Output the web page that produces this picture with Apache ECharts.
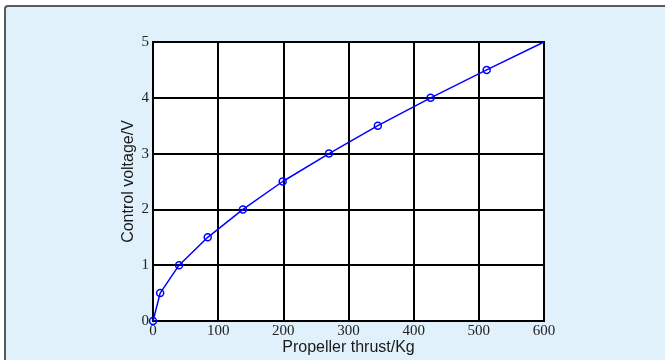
<!DOCTYPE html>
<html>
<head>
<meta charset="utf-8">
<script src="https://cdn.jsdelivr.net/npm/echarts@6/dist/echarts.min.js"></script>
<style>
  html, body { margin: 0; padding: 0; background: #ffffff; }
  #frame {
    position: absolute; left: 4px; top: 5px; width: 680px; height: 380px;
    border-left: 2px solid #5a5a5a; border-top: 2px solid #5a5a5a;
    border-top-left-radius: 4px; background: #e0f1fb; box-sizing: border-box;
  }
  #chart { position: absolute; left: 0; top: 0; width: 665px; height: 360px; }
</style>
</head>
<body>
<div id="frame"></div>
<div id="chart"></div>
<script>
// Thrust (Kg) required for each control voltage step (V)
const thrustKg = [0, 11, 40, 84, 138, 199, 270, 345, 426, 512, 600];
const voltageV = [0, 0.5, 1, 1.5, 2, 2.5, 3, 3.5, 4, 4.5, 5];
const xTicks = [0, 100, 200, 300, 400, 500, 600];
const yTicks = [0, 1, 2, 3, 4, 5];

const points = thrustKg.map((t, i) => [t, voltageV[i]]);
const lastIndex = points.length - 1;

const chart = echarts.init(document.getElementById('chart'), null, { renderer: 'canvas' });
const serif = '"Liberation Serif", "DejaVu Serif", serif';
const sans = '"Liberation Sans", Arial, sans-serif';

chart.setOption({
  backgroundColor: 'transparent',
  animation: false,
  grid: {
    left: 153, top: 42, right: 121, bottom: 39,
    outerBoundsMode: 'none', containLabel: false,
    show: true, backgroundColor: '#ffffff', borderColor: '#000', borderWidth: 2
  },
  xAxis: {
    type: 'value', min: xTicks[0], max: xTicks[xTicks.length - 1], interval: 100,
    name: 'Propeller thrust/Kg', nameLocation: 'middle', nameGap: 19,
    nameMoveOverlap: false,
    nameTextStyle: { fontFamily: sans, fontSize: 16, color: '#1a1a1a' },
    axisLine: { show: true, onZero: false, lineStyle: { color: '#000', width: 2 } },
    axisTick: { show: false },
    axisLabel: { fontFamily: serif, fontSize: 15, color: '#222', margin: 3 },
    splitLine: { show: true, lineStyle: { color: '#000', width: 2 } }
  },
  yAxis: {
    type: 'value', min: yTicks[0], max: yTicks[yTicks.length - 1], interval: 1,
    name: 'Control voltage/V', nameLocation: 'middle', nameGap: 16, nameRotate: 90,
    nameMoveOverlap: false,
    nameTextStyle: { fontFamily: sans, fontSize: 16, color: '#1a1a1a' },
    axisLine: { show: true, onZero: false, lineStyle: { color: '#000', width: 2 } },
    axisTick: { show: false },
    axisLabel: {
      fontFamily: serif, fontSize: 15, color: '#222', margin: 4,
      verticalAlign: 'middle', padding: [0, 0, 4, 0]
    },
    splitLine: { show: true, lineStyle: { color: '#000', width: 2 } }
  },
  series: [{
    type: 'line',
    data: points.map((p, i) => ({
      value: p,
      symbolSize: i === lastIndex ? 0 : 7
    })),
    symbol: 'circle',
    showAllSymbol: true,
    lineStyle: { color: '#0000ff', width: 1.5 },
    itemStyle: { color: 'transparent', borderColor: '#0000ff', borderWidth: 1.5 },
    clip: false
  }]
});
</script>
</body>
</html>
